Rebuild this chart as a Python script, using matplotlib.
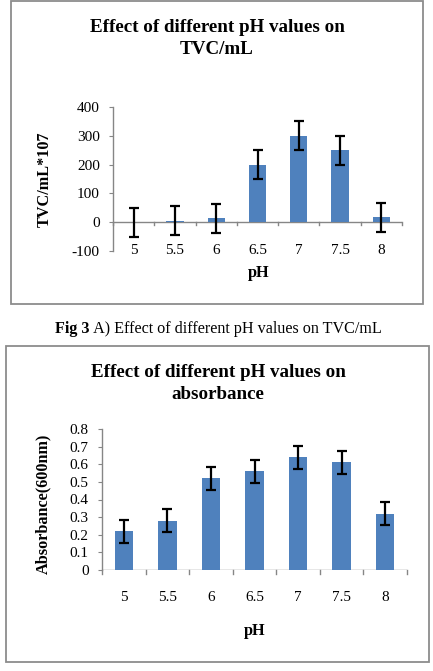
import matplotlib
matplotlib.use("Agg")
import matplotlib.pyplot as plt
from matplotlib.patches import Rectangle
import numpy as np

ph_labels = ["5", "5.5", "6", "6.5", "7", "7.5", "8"]
tvc_values = [0, 5, 13, 200, 300, 250, 17]
tvc_errors = [50, 50, 50, 50, 50, 50, 50]
abs_values = [0.22, 0.28, 0.52, 0.56, 0.64, 0.61, 0.32]
abs_errors = [0.065, 0.065, 0.065, 0.065, 0.065, 0.065, 0.065]
tvc_ticks = [-100, 0, 100, 200, 300, 400]
abs_ticks = [0, 0.1, 0.2, 0.3, 0.4, 0.5, 0.6, 0.7, 0.8]

W, H = 433, 671
plt.rcParams['font.family'] = ['Liberation Serif', 'DejaVu Serif']
fig = plt.figure(figsize=(W/100, H/100), dpi=100)
fig.patch.set_facecolor('white')

BAR = '#4F81BD'
AXC = '#868686'
TICK_FS = 11
LAB_FS = 11.7
TITLE_FS = 13.7

def fx(px):
    return px / W

def fy(py):
    return 1 - py / H

def panel_box(x0, y0, x1, y1):
    r = Rectangle((fx(x0), fy(y1)), fx(x1) - fx(x0), fy(y0) - fy(y1),
                  transform=fig.transFigure, fill=False, edgecolor='#8c8c8c', lw=1.3)
    fig.patches.append(r)

def make_axes(x0, x1, ytop, ybot):
    return fig.add_axes([fx(x0), fy(ybot), fx(x1) - fx(x0), fy(ytop) - fy(ybot)])

def style(ax, values, errors, ticks, ymin, ymax, fmt):
    x = np.arange(len(ph_labels))
    ax.bar(x, values, width=0.42, color=BAR, zorder=2)
    ax.errorbar(x, values, yerr=errors, fmt='none', ecolor='black', elinewidth=1.6,
                capsize=3.5, capthick=1.6, zorder=3)
    ax.set_xlim(-0.5, len(ph_labels) - 0.5)
    ax.set_ylim(ymin, ymax)
    for s in ['top', 'right', 'bottom']:
        ax.spines[s].set_visible(False)
    ax.spines['left'].set_color(AXC)
    ax.spines['left'].set_linewidth(1.0)
    ax.axhline(0, color=AXC, lw=1.0, zorder=1)
    ax.set_yticks(ticks)
    ax.set_yticklabels([fmt(t) for t in ticks], fontsize=TICK_FS)
    ax.tick_params(axis='y', direction='out', length=3, color=AXC, pad=6.5)
    ax.set_xticks([])
    ax.set_facecolor('none')
    return x

# ---- Panel 1 ----
panel_box(11, 1, 423, 304)
ax1 = make_axes(113, 402, 107, 251)
x1 = style(ax1, tvc_values, tvc_errors, tvc_ticks, -100, 400, lambda t: f"{t:d}")
for b in np.arange(-0.5, len(ph_labels), 1.0):
    ax1.plot([b, b], [0, -9], color=AXC, lw=1.0, zorder=1, clip_on=False)
for xi, lab in zip(x1, ph_labels):
    ax1.text(xi, -100, lab, ha='center', va='center', fontsize=TICK_FS)
fig.text(fx(217), fy(38.5), "Effect of different pH values on\nTVC/mL", ha='center', va='center',
         fontsize=TITLE_FS, fontweight='bold', linespacing=1.4)
fig.text(fx(45), fy(179), "TVC/mL*107", rotation=90, ha='center', va='center',
         fontsize=LAB_FS, fontweight='bold')
fig.text(fx(259), fy(273), "pH", ha='center', va='center', fontsize=LAB_FS, fontweight='bold')

# ---- Caption ----
t1 = fig.text(fx(55), fy(329), "Fig 3", ha='left', va='center', fontsize=11.6, fontweight='bold')
ax_dummy = fig.add_axes([0, 0, 0.01, 0.01])
ax_dummy.axis('off')
ax_dummy.annotate(" A) Effect of different pH values on TVC/mL", xy=(1, 0.5), xycoords=t1,
                  ha='left', va='center', fontsize=11.6, annotation_clip=False)

# ---- Panel 2 ----
panel_box(6, 346, 429, 662)
ax2 = make_axes(102, 407, 429, 570)
x2 = style(ax2, abs_values, abs_errors, abs_ticks, 0, 0.8, lambda t: f"{t:g}")
for b in np.arange(-0.5, len(ph_labels), 1.0):
    ax2.plot([b, b], [0, -0.02], color=AXC, lw=1.0, zorder=1, clip_on=False)
for xi, lab in zip(x2, ph_labels):
    ax2.text(xi, -0.155, lab, ha='center', va='center', fontsize=TICK_FS)
fig.text(fx(218), fy(383.5), "Effect of different pH values on\nabsorbance", ha='center', va='center',
         fontsize=TITLE_FS, fontweight='bold', linespacing=1.35)
fig.text(fx(43), fy(504), "Absorbance(600nm)", rotation=90, ha='center', va='center',
         fontsize=LAB_FS, fontweight='bold')
fig.text(fx(255), fy(631), "pH", ha='center', va='center', fontsize=LAB_FS, fontweight='bold')

fig.savefig("out.png", dpi=100, facecolor='white')
